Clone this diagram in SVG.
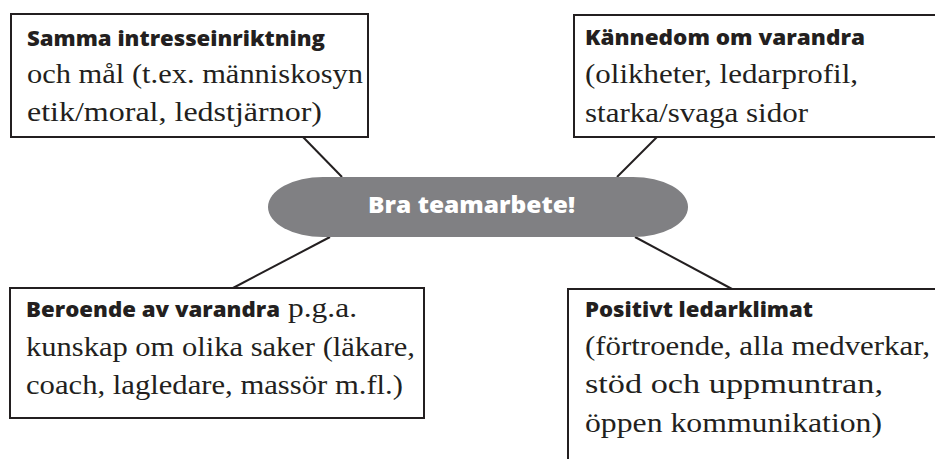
<svg xmlns="http://www.w3.org/2000/svg" width="935" height="459" viewBox="0 0 935 459">
  <style>
    .box { fill: #ffffff; stroke: #231f20; stroke-width: 2; }
    .link { stroke: #231f20; stroke-width: 2; fill: none; }
    .head { font-family: "Open Sans", Lato, "Liberation Sans", sans-serif; font-weight: 800; font-size: 21px; fill: #231f20; }
    .body { font-family: "Liberation Serif", "DejaVu Serif", serif; font-size: 28px; fill: #231f20; }
    .hub { fill: #808083; }
    .hubtext { font-family: "Open Sans", Lato, "Liberation Sans", sans-serif; font-weight: 800; font-size: 22px; fill: #ffffff; }
  </style>
  <rect width="935" height="459" fill="#ffffff"/>

  <!-- connectors between the central hub and the four boxes -->
  <g id="connectors">
    <line class="link" x1="303" y1="137" x2="342" y2="177"/>
    <line class="link" x1="657" y1="137" x2="617" y2="177"/>
    <line class="link" x1="330" y1="237" x2="233" y2="288"/>
    <line class="link" x1="635" y1="237" x2="732" y2="289"/>
  </g>

  <g id="hub">
    <rect class="hub" x="268" y="177" width="420" height="60" rx="55" ry="30"/>
    <text class="hubtext" x="368" y="213" textLength="207" lengthAdjust="spacingAndGlyphs">Bra teamarbete!</text>
  </g>

  <g id="node-intresse">
    <rect class="box" x="11" y="14" width="357" height="123"/>
    <text class="head" x="27" y="46" textLength="298" lengthAdjust="spacingAndGlyphs">Samma intresseinriktning</text>
    <text class="body" x="27" y="83" textLength="336" lengthAdjust="spacingAndGlyphs">och mål (t.ex. människosyn</text>
    <text class="body" x="27" y="121" textLength="295" lengthAdjust="spacingAndGlyphs">etik/moral, ledstjärnor)</text>
  </g>

  <g id="node-kannedom">
    <rect class="box" x="574" y="15" width="370" height="122"/>
    <text class="head" x="585" y="45" textLength="280" lengthAdjust="spacingAndGlyphs">Kännedom om varandra</text>
    <text class="body" x="585" y="83" textLength="273" lengthAdjust="spacingAndGlyphs">(olikheter, ledarprofil,</text>
    <text class="body" x="585" y="122" textLength="223" lengthAdjust="spacingAndGlyphs">starka/svaga sidor</text>
  </g>

  <g id="node-beroende">
    <rect class="box" x="10" y="288" width="414" height="130"/>
    <text class="head" x="26" y="317" textLength="254" lengthAdjust="spacingAndGlyphs">Beroende av varandra</text>
    <text class="body" x="288" y="317" textLength="69" lengthAdjust="spacingAndGlyphs">p.g.a.</text>
    <text class="body" x="26" y="356" textLength="389" lengthAdjust="spacingAndGlyphs">kunskap om olika saker (läkare,</text>
    <text class="body" x="26" y="394" textLength="377" lengthAdjust="spacingAndGlyphs">coach, lagledare, massör m.fl.)</text>
  </g>

  <g id="node-ledarklimat">
    <rect class="box" x="568" y="289" width="380" height="200"/>
    <text class="head" x="585" y="317" textLength="228" lengthAdjust="spacingAndGlyphs">Positivt ledarklimat</text>
    <text class="body" x="585" y="355" textLength="345" lengthAdjust="spacingAndGlyphs">(förtroende, alla medverkar,</text>
    <text class="body" x="585" y="393" textLength="298" lengthAdjust="spacingAndGlyphs">stöd och uppmuntran,</text>
    <text class="body" x="585" y="432" textLength="297" lengthAdjust="spacingAndGlyphs">öppen kommunikation)</text>
  </g>
</svg>
